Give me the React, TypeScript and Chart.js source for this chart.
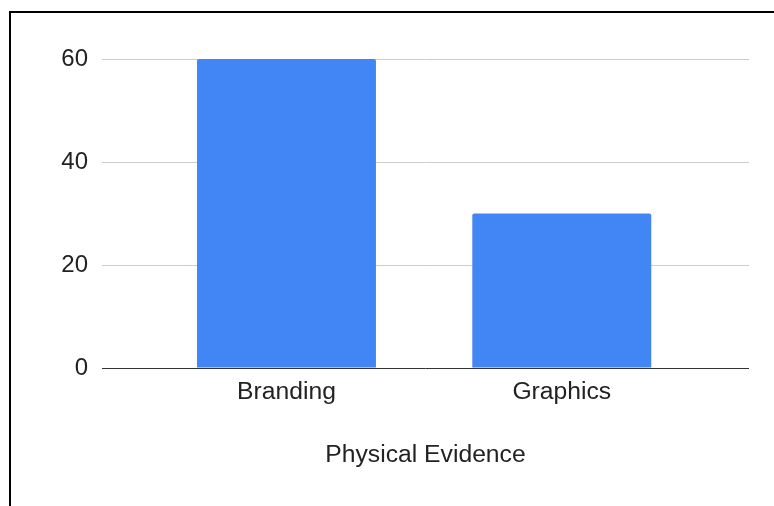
import React, { useEffect, useRef } from "react";
import { Chart, registerables } from "chart.js";

Chart.register(...registerables);

// Chart data
const categories: string[] = ["Branding", "Graphics"];
const values: number[] = [60, 30];
const yTicks: number[] = [0, 20, 40, 60];
const xAxisTitle = "Physical Evidence";

const FONT = "'Liberation Sans', Arial, Helvetica, sans-serif";
const TEXT = "#222222";
const BAR = "#4285f4";

export default function App() {
  const canvasRef = useRef<HTMLCanvasElement | null>(null);

  useEffect(() => {
    const canvas = canvasRef.current;
    if (!canvas) return;

    const chart = new Chart(canvas, {
      type: "bar",
      data: {
        datasets: [
          {
            data: values.map((v, i) => ({ x: i, y: v })),
            backgroundColor: BAR,
            borderWidth: 0,
            borderRadius: 2,
            categoryPercentage: 1,
            barPercentage: 0.65,
          },
        ],
      },
      options: {
        responsive: false,
        animation: false,
        devicePixelRatio: 1,
        layout: { padding: { left: 0, right: 25, top: 59, bottom: 0 } },
        plugins: {
          legend: { display: false },
          tooltip: { enabled: false },
        },
        scales: {
          x: {
            type: "linear",
            offset: false,
            min: -0.67,
            max: 1.68,
            grid: { display: false, drawTicks: false, offset: false },
            border: { display: false },
            afterBuildTicks: (scale: any) => {
              scale.ticks = categories.map((_, i) => ({ value: i }));
            },
            afterFit: (scale: any) => {
              scale.height = 138;
            },
            ticks: {
              autoSkip: false,
              maxRotation: 0,
              padding: 9,
              color: TEXT,
              font: { family: FONT, size: 24.7 },
              callback: (v: any) => categories[Number(v)] ?? "",
            },
            title: {
              display: true,
              text: xAxisTitle,
              color: TEXT,
              font: { family: FONT, size: 24.7 },
              padding: { top: 36, bottom: 36 },
            },
          },
          y: {
            min: yTicks[0],
            max: yTicks[yTicks.length - 1],
            grid: {
              drawTicks: false,
              lineWidth: 1,
              color: (ctx: any) => (ctx.tick && ctx.tick.value === 0 ? "#333333" : "#cccccc"),
            },
            border: { display: false },
            afterBuildTicks: (scale: any) => {
              scale.ticks = yTicks.map((v) => ({ value: v }));
            },
            afterFit: (scale: any) => {
              scale.width = 102;
            },
            ticks: {
              padding: 14,
              color: TEXT,
              font: { family: FONT, size: 24 },
            },
          },
        },
      },
    });

    return () => chart.destroy();
  }, []);

  return (
    <div style={{ position: "fixed", inset: 0, overflow: "hidden", background: "#fff" }}>
      <div
        style={{
          position: "absolute",
          left: 9,
          top: 11,
          width: 900,
          height: 700,
          border: "2px solid #000",
          boxSizing: "border-box",
        }}
      />
      <canvas
        ref={canvasRef}
        width={774}
        height={506}
        style={{ position: "absolute", left: 0, top: 0, width: 774, height: 506 }}
      />
    </div>
  );
}
